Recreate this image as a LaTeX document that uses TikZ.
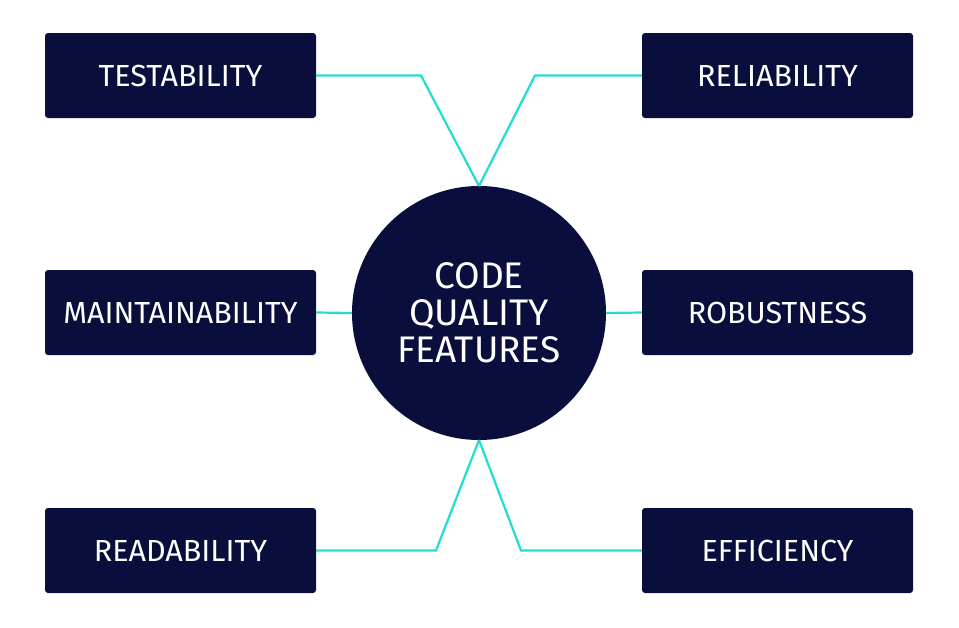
\documentclass[tikz,border=0pt]{standalone}
\usepackage{fontspec}
\setmainfont{Fira Sans}
\definecolor{navy}{HTML}{0A0E3C}
\definecolor{cyanl}{HTML}{22DDD2}
\begin{document}
\begin{tikzpicture}[x=1pt,y=-1pt,
  box/.style={fill=navy,rounded corners=3pt,minimum width=271pt,minimum height=85pt,text=white,font=\fontsize{30.5}{34}\selectfont,inner sep=0pt},
  link/.style={draw=cyanl,line width=2.2pt}]
\useasboundingbox (0,0) rectangle (959,627);
\node[circle,fill=navy,minimum size=254pt,inner sep=0pt,text=white,align=center,font=\fontsize{37}{37}\selectfont] (c) at (479,313) {CODE\\QUALITY\\FEATURES};
\node[box] (t) at (180.5,75.5) {TESTABILITY};
\node[box] (r) at (777.5,75.5) {RELIABILITY};
\node[box] (m) at (180.5,312.5) {MAINTAINABILITY};
\node[box] (b) at (777.5,312.5) {ROBUSTNESS};
\node[box] (d) at (180.5,550.5) {READABILITY};
\node[box] (e) at (777.5,550.5) {EFFICIENCY};
\coordinate (top) at (479,186);
\coordinate (bot) at (479,440);
\draw[link] (t.east) -- (421,75.5) -- (top);
\draw[link] (r.west) -- (535,75.5) -- (top);
\draw[link] (m.east) -- (c.west);
\draw[link] (b.west) -- (c.east);
\draw[link] (d.east) -- (436,550.5) -- (bot);
\draw[link] (e.west) -- (521,550.5) -- (bot);
\end{tikzpicture}
\end{document}
